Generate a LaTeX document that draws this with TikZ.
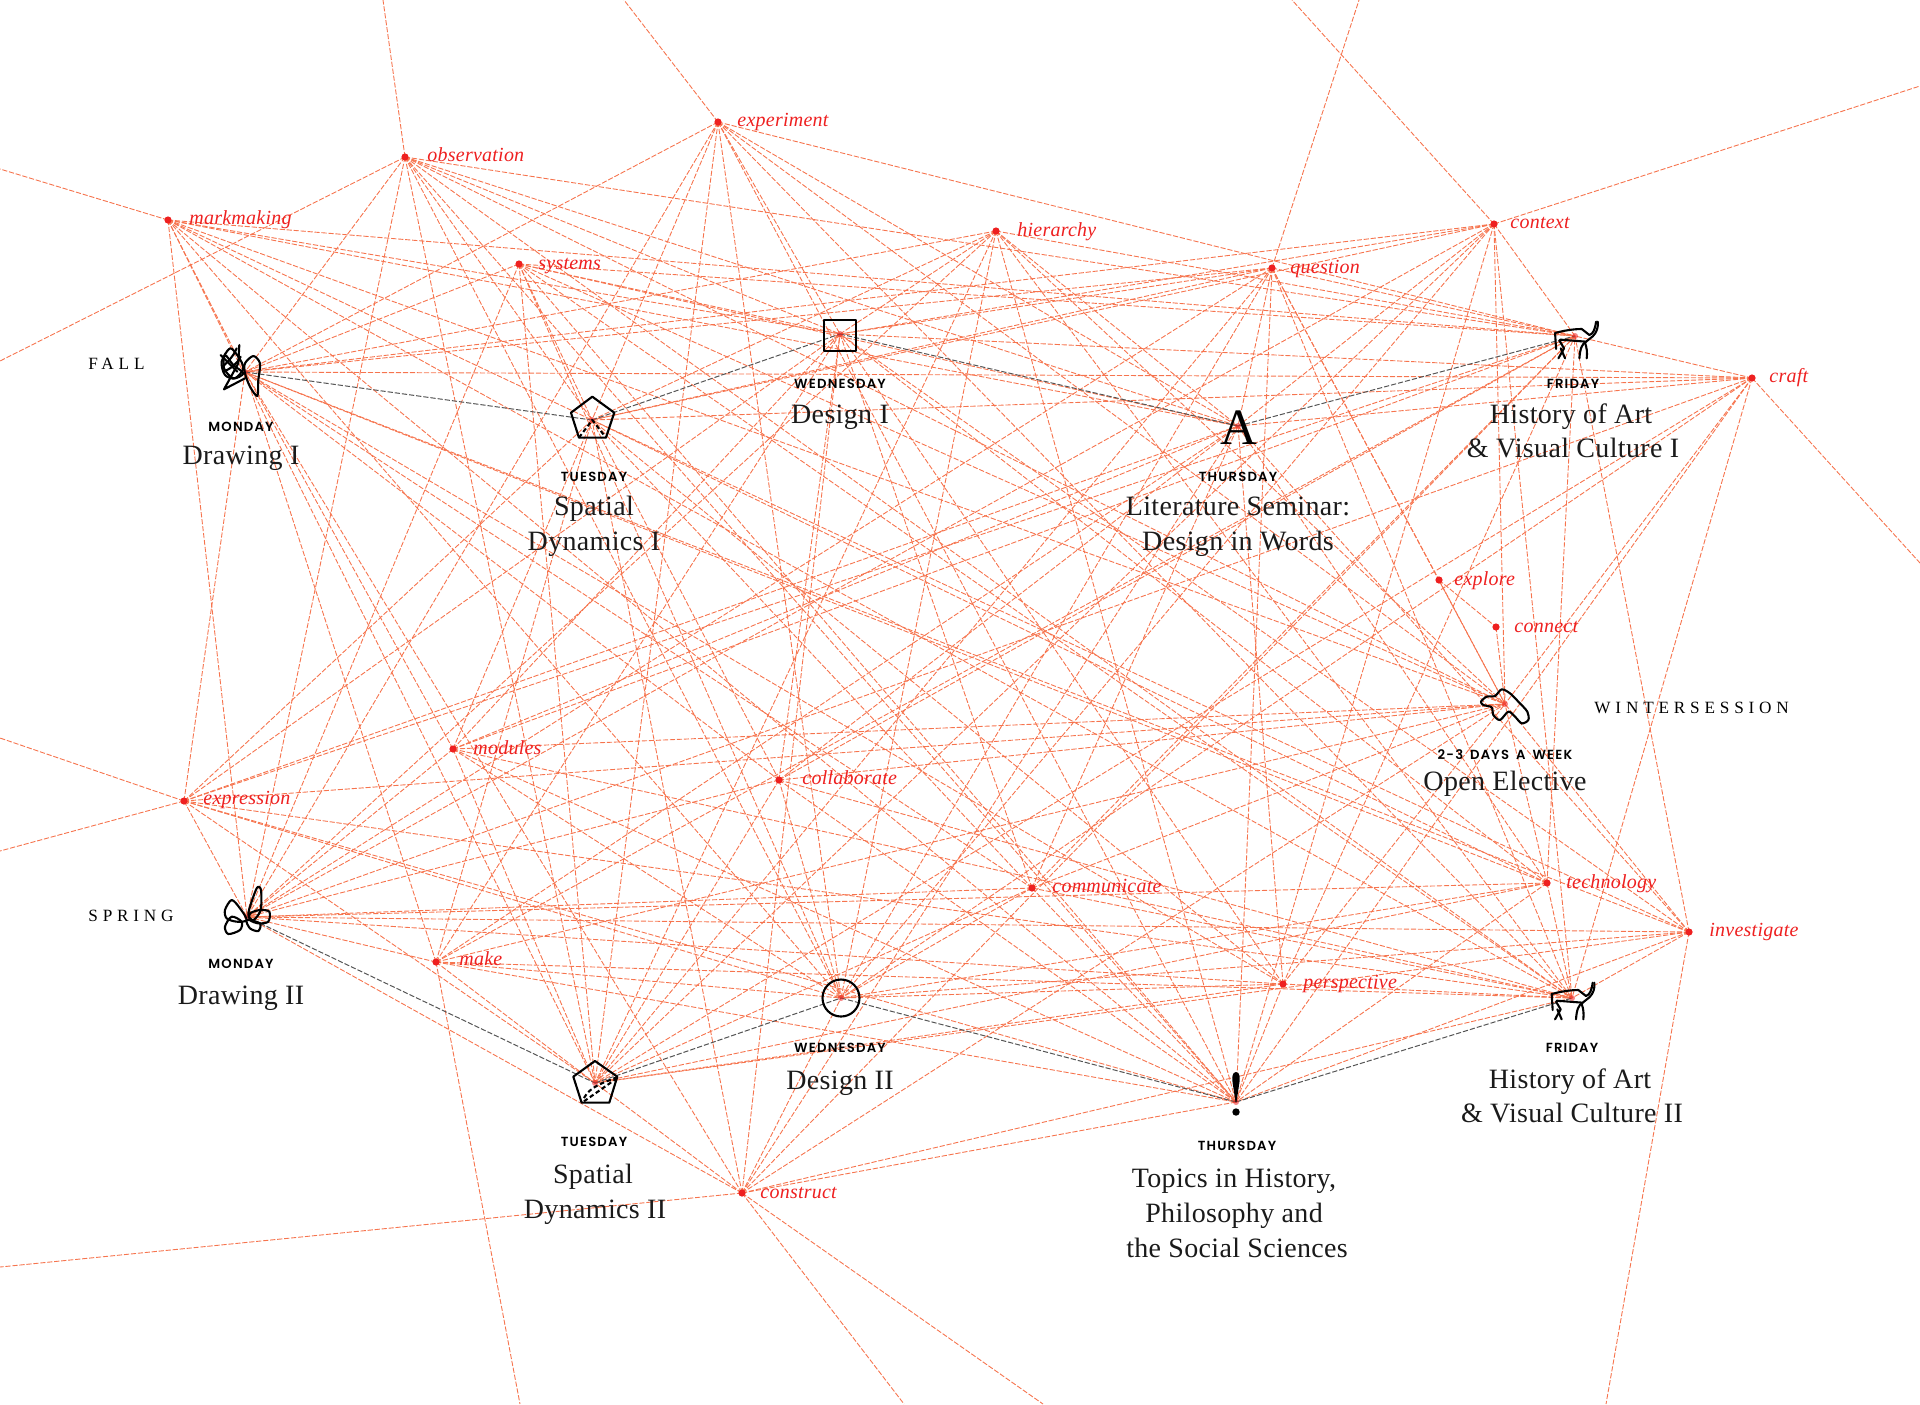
\documentclass[tikz,border=0pt]{standalone}
\usepackage{fontspec}
\setmainfont[LetterSpace=1.2]{Liberation Serif}
\newfontfamily\dayfont[LetterSpace=9,BoldFont={Poppins SemiBold}]{Poppins}
\newfontfamily\seasonfont[LetterSpace=28]{Liberation Serif}
\usetikzlibrary{backgrounds}
\definecolor{linkred}{HTML}{F6744E}
\definecolor{dotred}{HTML}{EE2020}
\definecolor{linkgray}{HTML}{555555}
\definecolor{ink}{HTML}{1A1A1A}
\tikzset{
 link/.style={draw=linkred,line width=0.45pt,dash pattern=on 2.6pt off 0.9pt},
 pathlink/.style={draw=linkgray,line width=0.5pt,dash pattern=on 2.6pt off 1pt},
 dot/.style={circle,fill=dotred,inner sep=0pt,minimum size=3.6pt},
 hub/.style={circle,fill=dotred,fill opacity=.55,inner sep=0pt,minimum size=3pt},
 word/.style={anchor=base west,text=dotred,font=\fontsize{10}{11}\selectfont\itshape,inner sep=0pt},
 course/.style={anchor=base,text=ink,font=\fontsize{14}{16}\selectfont,inner sep=0pt},
 day/.style={anchor=base,text=black,font=\fontsize{6.6}{8}\selectfont\dayfont\bfseries,inner sep=0pt},
 season/.style={anchor=base west,text=black,font=\fontsize{8.6}{10}\selectfont\seasonfont,inner sep=0pt},
 icon/.style={draw=black,line width=1.05pt,line join=round,line cap=round},
 animal/.pic={
  \begin{scope}[scale=.3333,icon]
  \draw (128,150) -- (125,102) .. controls (150,95) and (180,90) .. (205,90) -- (228,108) .. controls (240,104) and (245,90) .. (248,68);
  \draw (253,68) .. controls (255,85) and (250,100) .. (238,112) -- (218,128) -- (140,122);
  \draw (135,178) -- (152,148) -- (138,125);
  \draw (155,178) -- (142,148);
  \draw (198,178) .. controls (200,150) and (205,135) .. (218,128);
  \draw (220,178) .. controls (222,160) and (220,145) .. (215,132);
  \end{scope}
 }
}
\begin{document}
\begin{tikzpicture}[x=0.5pt,y=-0.5pt]
\useasboundingbox (0,0) rectangle (1920,1404);
% concept dots
\foreach \n/\px/\py in {exp/718/122,obs/405/157,mar/168/220,sys/519/264,hie/996/231,ctx/1494/224,que/1272/268,cra/1752/378,exr/1439/580,con/1496/627,mod/453/749,col/779/780,ex2/184/801,com/1032/888,tec/1547/883,inv/1689/932,mak/436/962,per/1283/984,cst/742/1193}
  \node[dot] (\n) at (\px,\py) {};
% course hubs
\foreach \n/\px/\py in {dra/245/372,spa/592/420,dsg/840/334,lit/1238/426,hia/1575/336,opn/1505/704,drb/247/917,spb/595/1083,dsb/841/998,top/1236/1102,hib/1572/998}
  \node[hub] (\n) at (\px,\py) {};
% free ends
\foreach \n/\px/\py in {f1/383/0,f2/624/0,f3/1292/0,f4/1359/0,f5/1920/86,f6/1920/563,f7/0/169,f8/0/361,f9/0/738,f10/0/851,f11/0/1267,f12/520/1404,f13/904/1404,f14/1043/1404,f15/1606/1404}
  \coordinate (\n) at (\px,\py);
\begin{pgfonlayer}{background}
\foreach \a in {exp,obs,mar,sys,hie,ctx,que,cra,mod,col,ex2,com,tec,inv,mak,per,cst}
 \foreach \b in {dra,spa,dsg,lit,hia,opn,drb,spb,dsb,top,hib}
  \draw[link] (\a.center) -- (\b.center);
\foreach \a/\b in {que/exr,exr/con,exr/opn,con/opn}
  \draw[link] (\a.center) -- (\b.center);
\foreach \a/\b in {obs/f1,exp/f2,ctx/f3,que/f4,ctx/f5,cra/f6,mar/f7,obs/f8,ex2/f9,ex2/f10,cst/f11,mak/f12,cst/f13,cst/f14,inv/f15}
  \draw[link] (\a.center) -- (\b);
\foreach \a/\b in {dra/spa,spa/dsg,dsg/lit,lit/hia,drb/spb,spb/dsb,dsb/top,top/hib}
  \draw[pathlink] (\a.center) -- (\b.center);
\end{pgfonlayer}
% concept labels
\foreach \n/\px/\py/\t in {lexp/737/126/experiment,lobs/427/161/observation,lmar/189/224/markmaking,lsys/538/269/systems,lhie/1017/236/hierarchy,lctx/1510/228/context,lque/1290/273/question,lcra/1769/382/craft,lexr/1454/585/explore,lcon/1514/632/connect,lmod/473/754/modules,lcol/802/784/collaborate,lex2/203/804/expression,lcom/1052/892/communicate,ltec/1566/888/technology,linv/1709/936/investigate,lmak/459/965/make,lper/1303/988/perspective,lcst/760/1198/construct}
  \node[word] (\n) at (\px,\py) {\t};
% day labels
\foreach \n/\px/\py/\t in {d1/241/431/MONDAY,d2/594/481/TUESDAY,d3/840/388/WEDNESDAY,d4/1238/481/THURSDAY,d5/1573/388/FRIDAY,d6/1505/759/{2-3\hspace{3.5pt}DAYS\hspace{3.5pt}A\hspace{3.5pt}WEEK},d7/241/968/MONDAY,d8/594/1146/TUESDAY,d9/840/1052/WEDNESDAY,d10/1237/1150/THURSDAY,d11/1572/1052/FRIDAY}
  \node[day] (\n) at (\px,\py) {\t};
% course titles
\foreach \n/\px/\py/\t in {c1/241/464/Drawing I,c2/594/515/Spatial,c3/594/550/Dynamics I,c4/840/423/Design I,c5/1238/515/Literature Seminar:,c6/1238/550/Design in Words,c7/1571/423/History of Art,c8/1573/457/\& Visual Culture I,c9/1505/790/Open Elective,c10/241/1004/Drawing II,c11/593/1183/Spatial,c12/595/1218/Dynamics II,c13/840/1089/Design II,c14/1234/1187/{Topics in History,},c15/1234/1222/Philosophy and,c16/1237/1257/the Social Sciences,c17/1570/1088/History of Art,c18/1572/1122/\& Visual Culture II}
  \node[course] (\n) at (\px,\py) {\t};
\node[season] (s1) at (88,369) {FALL};
\node[season] (s2) at (88,921) {SPRING};
\node[season] (s3) at (1594,713) {WINTERSESSION};
% icons
\begin{scope}[shift={(150,300)},scale=.3333,icon]
 \draw plot[smooth cycle] coordinates {(240,145)(265,170)(280,205)(255,235)(225,225)(215,185)};
 \draw plot[smooth cycle] coordinates {(225,165)(250,195)(280,220)(250,235)(222,205)};
 \draw plot[smooth cycle] coordinates {(285,190)(310,168)(330,190)(325,240)(322,288)(300,260)(285,220)};
 \draw (268,135) -- (265,190) -- (222,268) -- (285,235);
 \draw (212,165) -- (262,215);
 \draw (218,200) .. controls (240,180) and (255,160) .. (260,145);
 \draw (220,215) .. controls (245,205) and (262,190) .. (272,170);
\end{scope}
\begin{scope}[shift={(190,860)},scale=.3333,icon]
 \draw plot[smooth cycle] coordinates {(105,150)(125,120)(150,145)(170,180)(140,185)(110,175)};
 \draw plot[smooth cycle] coordinates {(105,200)(125,170)(155,185)(150,210)(115,222)};
 \draw plot[smooth cycle] coordinates {(175,160)(200,85)(213,90)(212,150)(190,180)};
 \draw plot[smooth cycle] coordinates {(180,160)(210,150)(238,155)(235,185)(205,190)(180,180)};
 \draw plot[smooth cycle] coordinates {(170,180)(210,190)(205,213)(180,205)};
\end{scope}
\begin{scope}[shift={(150,300)},scale=.3333,icon]
 \draw (1327,290) -- (1393,338) -- (1368,413) -- (1287,413) -- (1263,338) -- cycle;
 \draw[line cap=butt,dash pattern=on 2.2pt off 1.4pt] (1287,413) -- (1327,360) -- (1368,413);
\end{scope}
\begin{scope}[shift={(190,860)},scale=.3333,icon]
 \draw (1215,603) -- (1282,650) -- (1258,728) -- (1175,728) -- (1150,650) -- cycle;
 \draw[line cap=butt,dash pattern=on 2.2pt off 1.4pt] (1182,724) -- (1278,657);
 \draw[line cap=butt,dash pattern=on 2.2pt off 1.4pt] (1182,714) .. controls (1200,680) and (1240,668) .. (1278,653);
\end{scope}
\draw[icon,line cap=butt] (824,320) rectangle (856,351);
\draw[icon] (841,998) circle (18.5);
\node[inner sep=0pt,anchor=base,text=black,font=\fontsize{25.5}{26}\selectfont] (aicon) at (1239,444) {A};
\fill[black] (1236,1072) .. controls (1240,1072) and (1240,1078) .. (1239.5,1082) -- (1236.5,1102) -- (1235.5,1102) -- (1232.5,1082) .. controls (1232,1078) and (1232,1072) .. (1236,1072) -- cycle;
\fill[black] (1236,1112) circle (3.7);
\pic at (1510,960) {animal};
\pic at (1513.4,299) {animal};
\begin{scope}[shift={(1440,680)},scale=.3333,icon]
 \draw plot[smooth cycle] coordinates {(123,65)(140,50)(165,48)(185,28)(210,40)(235,65)(262,95)(265,120)(245,130)(225,110)(205,95)(180,120)(160,105)(155,82)(130,75)};
\end{scope}
\end{tikzpicture}
\end{document}
